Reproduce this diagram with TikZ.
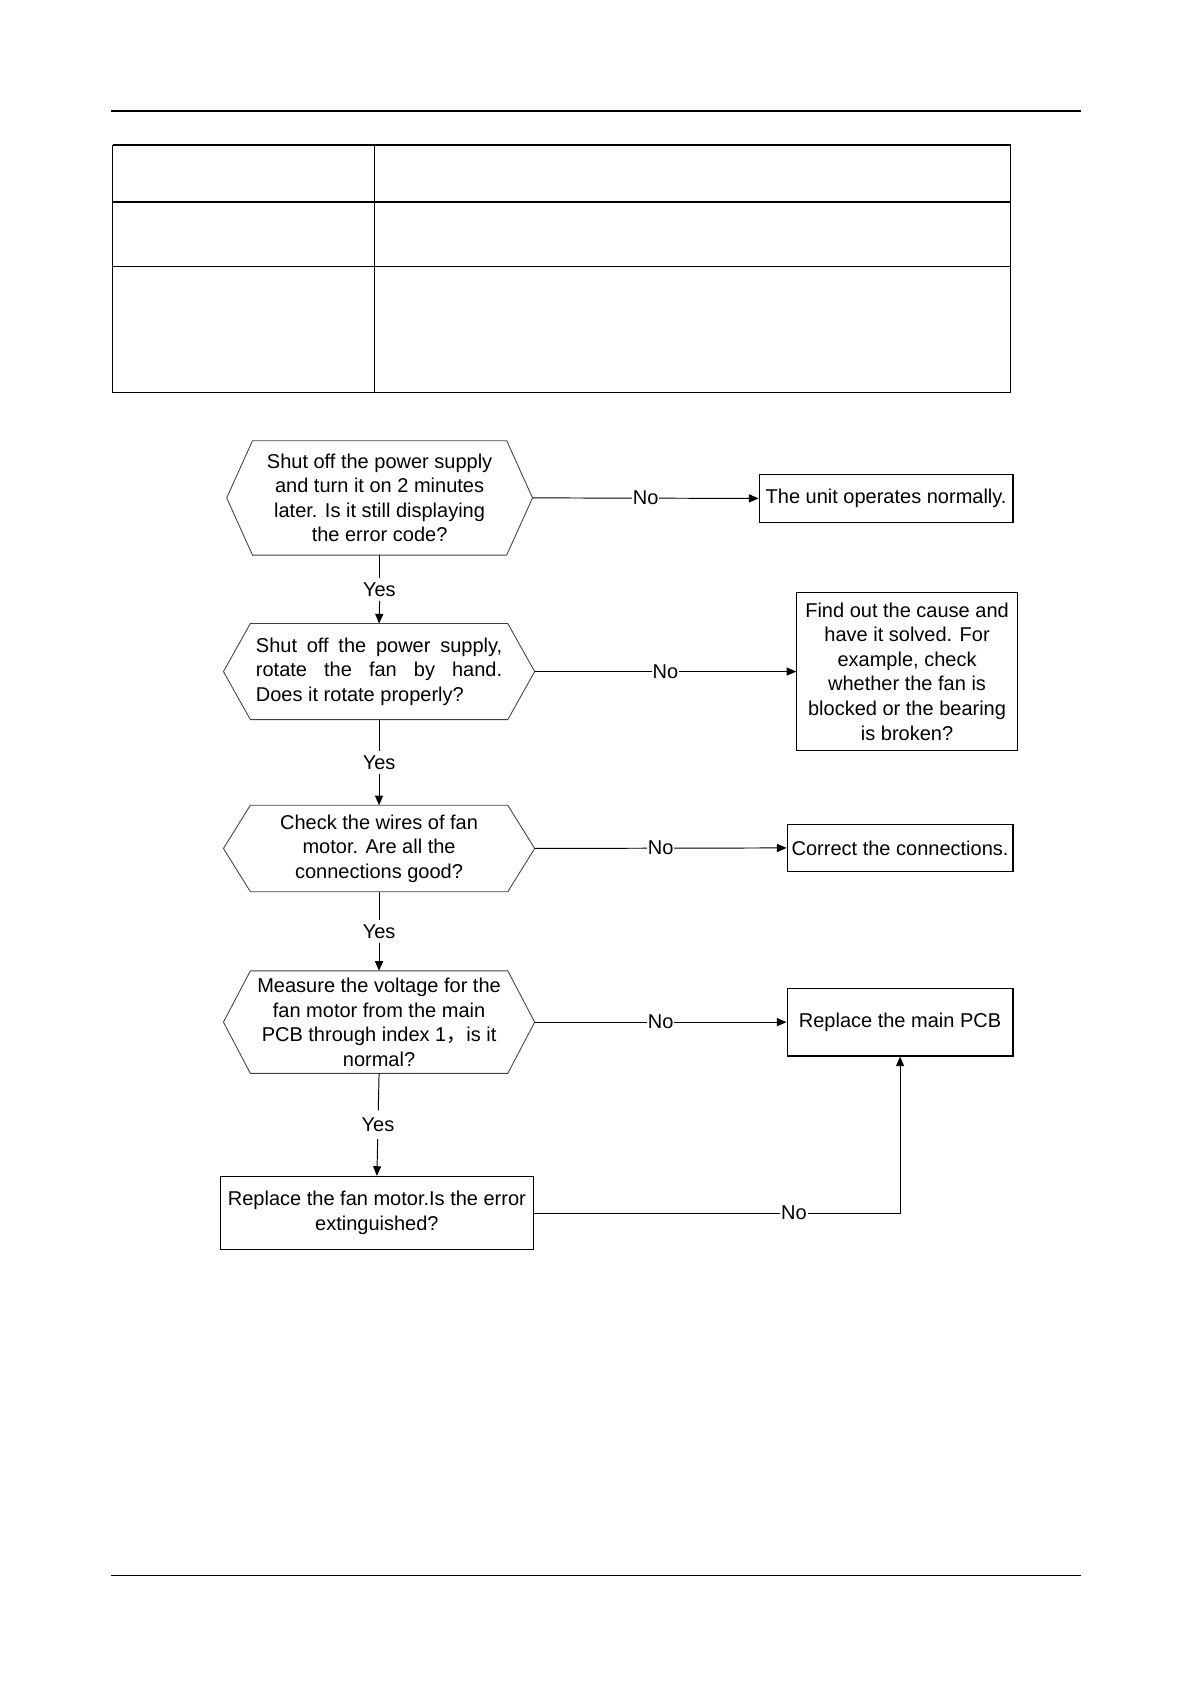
\documentclass[tikz,border=0pt]{standalone}
\usepackage{fontspec}
\setmainfont{Liberation Sans}
\newfontfamily\cjk{Noto Sans CJK SC}
\usetikzlibrary{arrows.meta,calc}
\newcommand\flowfont{\fontsize{18.6}{22.8}\selectfont}
\newcommand\hexdraw[2]{\draw[hexline] (#1.west) -- ([xshift=#2]#1.north west) -- ([xshift=-#2]#1.north east) -- (#1.east) -- ([xshift=-#2]#1.south east) -- ([xshift=#2]#1.south west) -- cycle;}
\begin{document}
\begin{tikzpicture}[x=1pt,y=-1pt,
  hexnode/.style={inner sep=0pt, align=center, font=\flowfont},
  hexline/.style={draw=black!75, line width=0.8pt, line join=miter},
  boxnode/.style={draw, line width=1pt, inner sep=0pt, align=center, font=\flowfont},
  lbl/.style={fill=white, inner sep=0.8pt, font=\flowfont},
  ylbl/.style={inner xsep=2pt, inner ysep=4pt, font=\flowfont},
  link/.style={line width=0.9pt},
  flow/.style={line width=0.9pt, -{Triangle[length=9pt,width=7.5pt]}},
  rule/.style={line width=1.5pt},
  thick row/.style={line width=1.4pt},
  thin col/.style={line width=0.9pt}]
\useasboundingbox (0,0) rectangle (1107,1566);
% page rules
\draw[rule] (103,103) -- (1005,103);
\draw[rule] (103,1465) -- (1005,1465);
% table
\draw[thick row] (105,135) -- (940,135);
\draw[thick row] (105,188) -- (940,188);
\draw[thick row] (105,248) -- (940,248);
\draw[thick row] (105,365) -- (940,365);
\draw[thin col] (105,135) -- (105,365);
\draw[thin col] (348,135) -- (348,365);
\draw[thin col] (940,135) -- (940,365);
% decisions
\node[hexnode, minimum width=284pt, minimum height=106pt] (d1) at (353,463)
  {Shut off the power supply\\and turn it on 2 minutes\\later. Is it still displaying\\the error code?};
\hexdraw{d1}{24}
\node[hexnode, align=left, minimum width=289pt, minimum height=89pt] (d2) at (352.5,624.5)
  {\makebox[229pt][s]{Shut off the power supply,}\\\makebox[229pt][s]{rotate the fan by hand.}\\Does it rotate properly?};
\hexdraw{d2}{25}
\node[hexnode, minimum width=289pt, minimum height=80pt] (d3) at (352.5,789)
  {Check the wires of fan\\motor. Are all the\\connections good?};
\hexdraw{d3}{25}
\node[hexnode, minimum width=289pt, minimum height=95pt] (d4) at (352.5,950.5)
  {Measure the voltage for the\\fan motor from the main\\PCB through index 1{\cjk ，}is it\\normal?};
\hexdraw{d4}{25}
\node[boxnode, minimum width=291pt, minimum height=68pt] (r5) at (350.5,1128)
  {Replace the fan motor.Is the error\\extinguished?};
% results
\node[boxnode, minimum width=236pt, minimum height=45pt] (r1) at (824,463.5) {The unit operates normally.};
\node[boxnode, minimum width=205pt, minimum height=147pt] (r2) at (843.5,624.5)
  {Find out the cause and\\have it solved. For\\example, check\\whether the fan is\\blocked or the bearing\\is broken?};
\node[boxnode, minimum width=210pt, minimum height=43pt] (r3) at (837,788.5) {Correct the connections.};
\node[boxnode, minimum width=210pt, minimum height=63pt] (r4) at (837,950.5) {Replace the main PCB};
% connectors: No
\draw[flow] (d1.east) -- node[lbl]{No} (r1.west);
\draw[flow] (d2.east) -- node[lbl]{No} (r2.west);
\draw[flow] (d3.east) -- node[lbl]{No} (r3.west);
\draw[flow] (d4.east) -- node[lbl]{No} (r4.west);
\draw[flow] (r5.east) -- node[lbl, pos=0.71]{No} (r5.east -| r4.south) -- (r4.south);
% connectors: Yes (line broken around the label)
\path (d1.south) -- node[ylbl] (y1) {Yes} (d2.north);
\draw[link] (d1.south) -- (d1.south |- y1.north);
\draw[flow] (d1.south |- y1.south) -- (d2.north);
\path (d2.south) -- node[ylbl] (y2) {Yes} (d3.north);
\draw[link] (d2.south) -- (d2.south |- y2.north);
\draw[flow] (d2.south |- y2.south) -- (d3.north);
\path (d3.south) -- node[ylbl] (y3) {Yes} (d4.north);
\draw[link] (d3.south) -- (d3.south |- y3.north);
\draw[flow] (d3.south |- y3.south) -- (d4.north);
\path (d4.south) -- node[ylbl] (y4) {Yes} (r5.north);
\draw[link] (d4.south) -- ($(d4.south)!0.36!(r5.north)$);
\draw[flow] ($(d4.south)!0.64!(r5.north)$) -- (r5.north);
\end{tikzpicture}
\end{document}
